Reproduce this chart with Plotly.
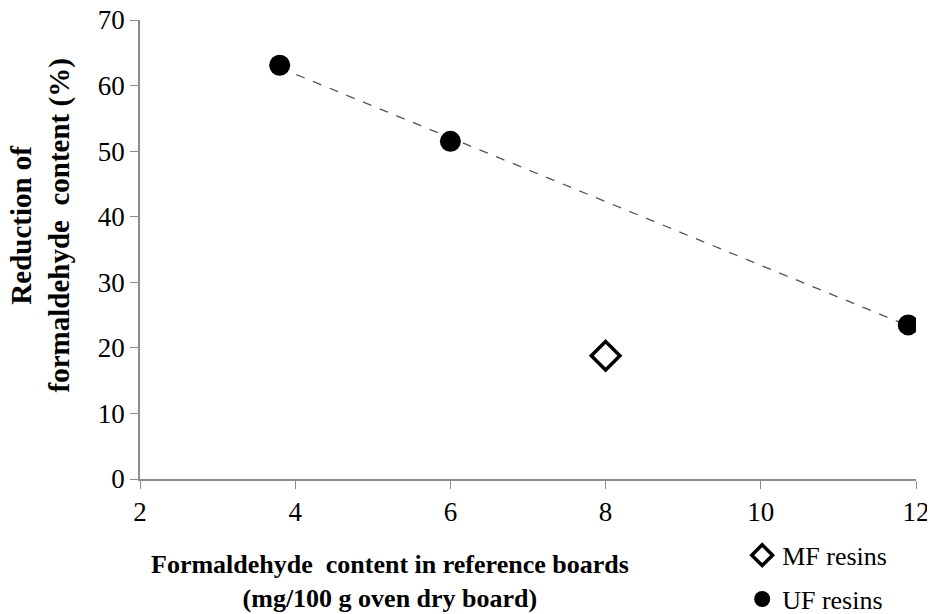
import numpy as np
import plotly.graph_objects as go

uf_x = [3.8, 6.0, 11.9]
uf_y = [63.1, 51.5, 23.5]
mf_x = [8.0]
mf_y = [18.8]

FONT = "Liberation Serif"

slope, intercept = np.polyfit(uf_x, uf_y, 1)
trend_x = [min(uf_x), max(uf_x)]
trend_y = [slope * v + intercept for v in trend_x]

fig = go.Figure()
fig.add_trace(go.Scatter(x=trend_x, y=trend_y, mode="lines",
                         line=dict(color="#555555", width=1.3, dash="dash"),
                         showlegend=False, hoverinfo="skip"))
fig.add_trace(go.Scatter(x=mf_x, y=mf_y, mode="markers", name="MF resins",
                         legendgroup="mf",
                         marker=dict(symbol="diamond", size=22, color="white",
                                     line=dict(color="black", width=3.5))))
fig.add_trace(go.Scatter(x=uf_x, y=uf_y, mode="markers", name="UF resins",
                         legendgroup="uf",
                         marker=dict(symbol="circle", size=21, color="black")))

fig.update_layout(
    width=927, height=606,
    margin=dict(l=132, r=19, t=12, b=135, autoexpand=False),
    paper_bgcolor="white", plot_bgcolor="white",
    font=dict(family=FONT, color="black", size=24),
    showlegend=True,
    legend=dict(x=0.776, y=-0.115, xanchor="left", yanchor="top",
                itemwidth=30, tracegroupgap=7,
                font=dict(family=FONT, size=26, color="black"),
                bgcolor="rgba(0,0,0,0)"),
    xaxis=dict(range=[2, 12], dtick=2, tick0=2, showgrid=False, zeroline=False,
               showline=True, linecolor="#8c8c8c", linewidth=1.5,
               ticks="outside", ticklen=8, tickcolor="#8c8c8c",
               automargin=False, ticklabeloverflow="allow",
               tickfont=dict(family=FONT, size=27)),
    yaxis=dict(range=[0, 70], dtick=10, showgrid=False, zeroline=False,
               showline=True, linecolor="#8c8c8c", linewidth=1.5,
               ticks="outside", ticklen=8, tickcolor="#8c8c8c",
               automargin=False, ticklabeloverflow="allow",
               tickfont=dict(family=FONT, size=27)),
    annotations=[
        dict(text="<b>Formaldehyde  content in reference boards<br>(mg/100 g oven dry board)</b>",
             xref="paper", yref="paper", x=0.322, y=-0.2225,
             xanchor="center", yanchor="middle", showarrow=False,
             font=dict(family=FONT, size=26)),
        dict(text="<b>Reduction of<br>formaldehyde  content (%)</b>",
             xref="paper", yref="paper", x=-0.1285, y=0.553,
             xanchor="center", yanchor="middle", textangle=-90, showarrow=False,
             font=dict(family=FONT, size=29)),
    ],
)

fig.write_html("out.html")
